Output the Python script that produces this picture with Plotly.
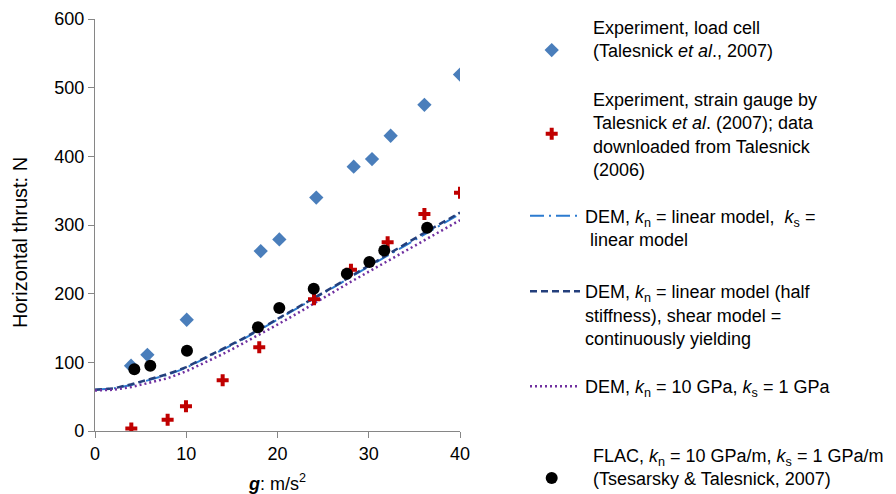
import plotly.graph_objects as go

# ---- data ----
g_load = [3.95, 5.74, 10.05, 18.16, 20.2, 24.25, 28.35, 30.36, 32.4, 36.1, 40.0]
thrust_load = [95, 111, 162, 262, 279, 340, 385, 396, 430, 475, 519]

g_strain = [3.98, 7.96, 9.97, 13.99, 18.0, 24.0, 28.05, 32.07, 36.1, 40.0]
thrust_strain = [3.5, 16.5, 36, 74, 122, 192, 235, 275, 316, 347]

g_flac = [4.31, 6.06, 10.08, 17.86, 20.2, 23.97, 27.6, 30.07, 31.7, 36.4]
thrust_flac = [90, 95, 117, 151, 179, 207, 229, 246, 263, 296]

g_dem = [0, 2, 4, 6, 8, 10, 12, 14, 16, 18, 20, 22, 24, 26, 28, 30, 32, 34, 36, 38, 40]
dem_linear = [60, 62, 67, 74, 82, 92, 105, 118, 132, 147, 162, 177, 193, 208, 224, 240, 255, 270, 286, 301, 316]
dem_half = [60, 62, 68, 75, 83, 93, 106, 119, 133, 148, 163, 178, 194, 209, 225, 241, 256, 272, 288, 303, 318]
dem_10gpa = [59, 60, 64, 70, 77, 87, 99, 112, 126, 140, 155, 170, 186, 201, 217, 232, 247, 262, 277, 292, 307]

x_ticks = [0, 10, 20, 30, 40]
y_ticks = [0, 100, 200, 300, 400, 500, 600]

name_load = "Experiment, load cell<br>(Talesnick <i>et al</i>., 2007)"
name_strain = ("Experiment, strain gauge by<br>Talesnick <i>et al</i>. (2007); data<br>"
               "downloaded from Talesnick<br>(2006)")
name_linear = "DEM, <i>k</i><sub>n</sub> = linear model,  <i>k</i><sub>s</sub> =<br> linear model"
name_half = ("DEM, <i>k</i><sub>n</sub> = linear model (half<br>stiffness), shear model =<br>"
             "continuously yielding")
name_10 = "DEM, <i>k</i><sub>n</sub> = 10 GPa, <i>k</i><sub>s</sub> = 1 GPa"
name_flac = ("FLAC, <i>k</i><sub>n</sub> = 10 GPa/m, <i>k</i><sub>s</sub> = 1 GPa/m<br>"
             "(Tsesarsky &amp; Talesnick, 2007)")
y_title = "Horizontal thrust: N"
x_title = "<b><i>g</i></b>: m/s<sup>2</sup>"

FONT = "Arial, Liberation Sans, sans-serif"
fig = go.Figure()

fig.add_trace(go.Scatter(x=g_dem, y=dem_linear, mode="lines", name=name_linear, legend="legend3",
                         line=dict(color="#2C7BD0", width=2, dash="14px,5px,2px,5px")))
fig.add_trace(go.Scatter(x=g_dem, y=dem_half, mode="lines", name=name_half, legend="legend4",
                         line=dict(color="#243F7C", width=2.5, dash="7px,4px")))
fig.add_trace(go.Scatter(x=g_dem, y=dem_10gpa, mode="lines", name=name_10, legend="legend5",
                         line=dict(color="#7030A0", width=2.5, dash="2px,3px")))
fig.add_trace(go.Scatter(x=g_load, y=thrust_load, mode="markers", name=name_load, legend="legend",
                         marker=dict(symbol="diamond", size=11, color="#4A7EBB")))
fig.add_trace(go.Scatter(x=g_strain, y=thrust_strain, mode="markers", name=name_strain, legend="legend2",
                         marker=dict(symbol="cross", size=10, color="#C00000")))
fig.add_trace(go.Scatter(x=g_flac, y=thrust_flac, mode="markers", name=name_flac, legend="legend6",
                         marker=dict(symbol="circle", size=12, color="#000000")))

W, H = 896, 494
ML, MR, MT, MB = 95, 436, 19, 63


def leg(xpix, ypix, itemwidth, valign):
    return dict(xref="container", yref="container", x=xpix / W, y=1 - ypix / H,
                xanchor="left", yanchor="middle", itemwidth=itemwidth, valign=valign,
                bgcolor="rgba(0,0,0,0)", borderwidth=0,
                font=dict(family=FONT, size=18, color="#000000"))


fig.update_layout(
    width=W, height=H,
    margin=dict(l=ML, r=MR, t=MT, b=MB),
    paper_bgcolor="white", plot_bgcolor="white",
    font=dict(family=FONT, size=18, color="#000000"),
    showlegend=True,
    legend=leg(510.4, 38.5, 72.6, "bottom"),
    legend2=leg(510.4, 134, 72.6, "middle"),
    legend3=leg(525, 227.5, 50, "top"),
    legend4=leg(525, 315, 50, "top"),
    legend5=leg(525, 386.5, 50, "middle"),
    legend6=leg(510.4, 466.5, 72.6, "bottom"),
    xaxis=dict(range=[0, 40], tickvals=x_ticks, showline=True, linecolor="#868686", linewidth=1.2,
               ticks="outside", ticklen=6, tickcolor="#868686", showgrid=False, zeroline=False,
               automargin=False, tickfont=dict(size=18),
               title=dict(text=x_title, font=dict(size=18), standoff=21)),
    yaxis=dict(range=[0, 600], tickvals=y_ticks, showline=True, linecolor="#868686", linewidth=1.2,
               ticks="outside", ticklen=6, tickcolor="#868686", showgrid=False, zeroline=False,
               automargin=False, tickfont=dict(size=18)),
    annotations=[dict(text=y_title, textangle=-90, showarrow=False,
                      xref="paper", yref="paper",
                      x=(20 - ML) / (W - ML - MR), y=(H - MB - 243) / (H - MT - MB),
                      xanchor="center", yanchor="middle",
                      font=dict(family=FONT, size=20, color="#000000"))],
)

fig.write_html("out.html", config={"displayModeBar": False},
               post_script="document.body.style.margin='0';document.body.style.overflow='hidden';")
